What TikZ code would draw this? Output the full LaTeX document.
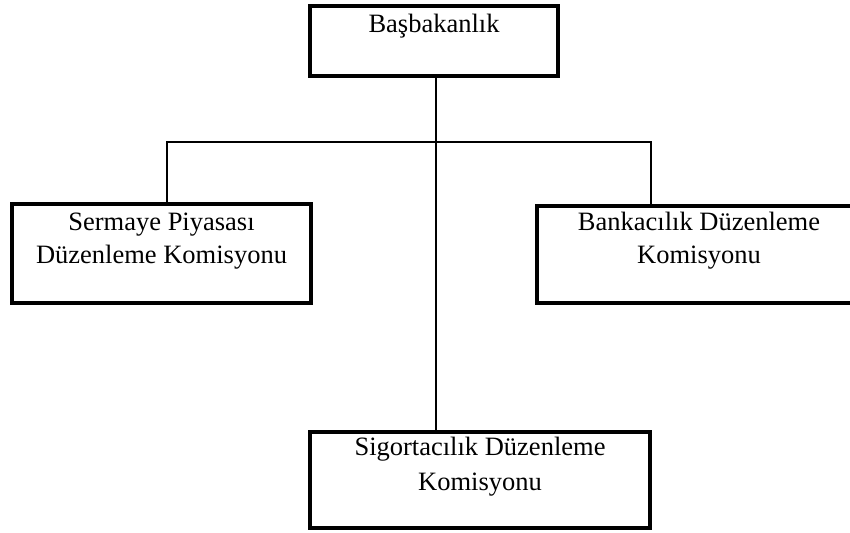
\documentclass[tikz,border=0pt]{standalone}
\usepackage{fontspec}
\setmainfont{Liberation Serif}
\begin{document}
\begin{tikzpicture}[x=1pt,y=-1pt,
  orgbox/.style={draw=black,line width=3.8pt,rectangle,inner sep=0pt,outer sep=0pt},
  orgline/.style={draw=black,line width=2.4pt},
  orgtext/.style={anchor=base,inner sep=0pt,font=\fontsize{26.5}{33}\selectfont}]
\useasboundingbox (0,0) rectangle (850,532);
\fill[white] (0,0) rectangle (850,532);
\clip (0,0) rectangle (850,532);
% boxes
\node[orgbox,minimum width=248pt,minimum height=70pt] (top) at (434,41) {};
\node[orgbox,minimum width=299pt,minimum height=99pt] (left) at (161.5,253.5) {};
\node[orgbox,minimum width=324pt,minimum height=97pt] (right) at (699,254.5) {};
\node[orgbox,minimum width=340pt,minimum height=96pt] (bot) at (480,480) {};
% texts
\node[orgtext] (t1) at (434,33) {Başbakanlık};
\node[orgtext] (l1) at (161.5,230) {Sermaye Piyasası};
\node[orgtext] (l2) at (161.5,263) {Düzenleme Komisyonu};
\node[orgtext] (r1) at (699,230) {Bankacılık Düzenleme};
\node[orgtext] (r2) at (699,263) {Komisyonu};
\node[orgtext] (b1) at (480,455) {Sigortacılık Düzenleme};
\node[orgtext] (b2) at (480,490) {Komisyonu};
% connectors
\coordinate (jc) at (436,142);
\coordinate (jl) at (167,142);
\coordinate (jr) at (651,142);
\draw[orgline] (top.south -| jc) -- (jc |- bot.north);
\draw[orgline] (jl |- left.north) -- (jl) -- (jr) -- (jr |- right.north);
\end{tikzpicture}
\end{document}
